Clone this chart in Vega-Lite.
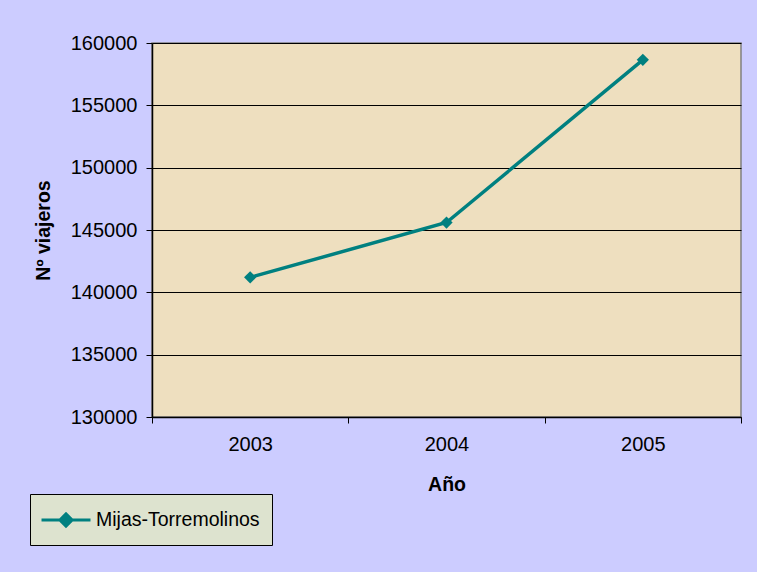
{
  "$schema": "https://vega.github.io/schema/vega-lite/v6.json",
  "autosize": "none",
  "width": 589,
  "height": 374,
  "padding": {"left": 152, "top": 43, "right": 16, "bottom": 155},
  "background": "#CCCCFF",
  "config": {
    "font": "Liberation Sans",
    "view": {"fill": "#EEDFBF", "stroke": "#808080", "strokeWidth": 1.5},
    "axis": {
      "labelFont": "Liberation Sans",
      "labelFontSize": 20,
      "labelColor": "#000000",
      "titleFont": "Liberation Sans",
      "titleFontSize": 19.5,
      "titleFontWeight": "bold",
      "titleColor": "#000000",
      "domainColor": "#000000",
      "domainWidth": 1.5,
      "tickColor": "#000000",
      "tickSize": 6,
      "tickWidth": 1
    }
  },
  "data": {
    "values": [
      {"anio": "2003", "viajeros": 141200, "serie": "Mijas-Torremolinos"},
      {"anio": "2004", "viajeros": 145600, "serie": "Mijas-Torremolinos"},
      {"anio": "2005", "viajeros": 158650, "serie": "Mijas-Torremolinos"}
    ]
  },
  "mark": {
    "type": "line",
    "strokeWidth": 3.5,
    "point": {"shape": "diamond", "size": 150, "filled": true, "opacity": 1}
  },
  "encoding": {
    "x": {
      "field": "anio",
      "type": "ordinal",
      "scale": {"type": "band", "paddingInner": 0, "paddingOuter": 0},
      "axis": {
        "title": "Año",
        "labelAngle": 0,
        "tickBand": "extent",
        "labelPadding": 11,
        "titlePadding": 21,
        "grid": false
      }
    },
    "y": {
      "field": "viajeros",
      "type": "quantitative",
      "scale": {"domain": [130000, 160000], "nice": false, "zero": false},
      "axis": {
        "title": "Nº viajeros",
        "values": [130000, 135000, 140000, 145000, 150000, 155000, 160000],
        "format": "d",
        "labelPadding": 9,
        "titlePadding": 17,
        "grid": true,
        "gridColor": "#000000",
        "gridWidth": 1,
        "gridOpacity": 1
      }
    },
    "color": {
      "field": "serie",
      "type": "nominal",
      "scale": {"range": ["#008080"]},
      "legend": {
        "title": null,
        "orient": "none",
        "legendX": -122,
        "legendY": 451,
        "fillColor": "#DDE3CF",
        "strokeColor": "#000000",
        "padding": 12,
        "symbolType": "M-2,0L2,0M-0.5,0L0,-0.5L0.5,0L0,0.5Z",
        "symbolSize": 600,
        "symbolOffset": 10,
        "symbolStrokeWidth": 3,
        "symbolStrokeColor": "#008080",
        "symbolFillColor": "#008080",
        "symbolOpacity": 1,
        "labelFont": "Liberation Sans",
        "labelFontSize": 19.5,
        "labelColor": "#000000",
        "labelOffset": 16,
        "labelLimit": 300
      }
    }
  }
}
